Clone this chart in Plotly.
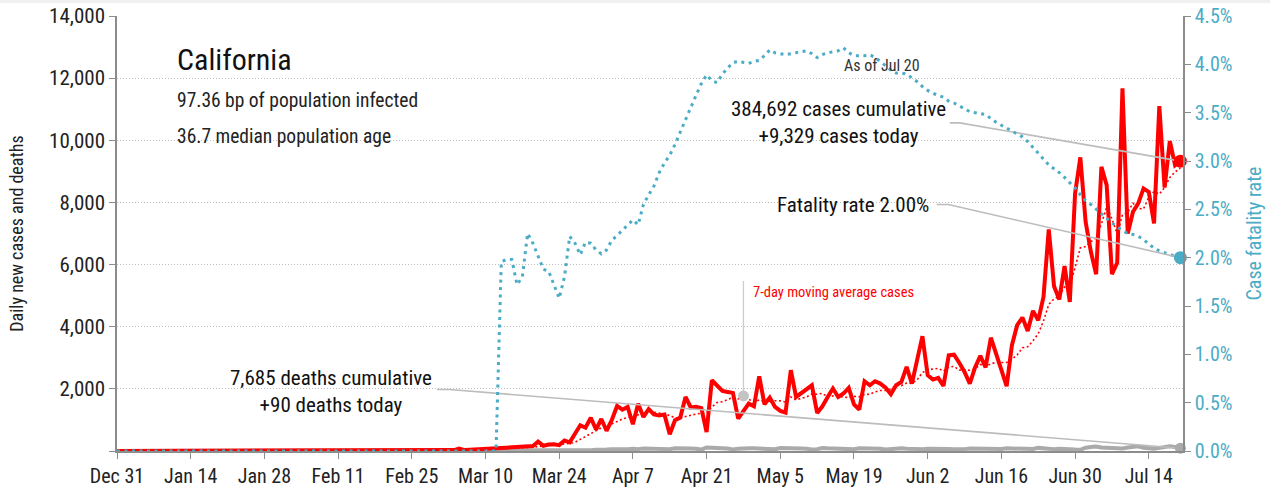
import pandas as pd
import plotly.graph_objects as go

# ---------------- data ----------------
start_date = "2019-12-31"
end_date = "2020-07-20"

# daily new cases, Dec 31 .. Jul 20
daily_cases = [
    0, 0, 0, 0, 0, 0, 0, 0, 0, 0,
    0, 0, 0, 0, 0, 0, 0, 0, 0, 0,
    0, 0, 0, 0, 0, 0, 0, 0, 0, 0,
    0, 0, 0, 0, 0, 0, 0, 0, 0, 0,
    0, 0, 0, 0, 0, 0, 0, 0, 0, 0,
    0, 0, 0, 0, 0, 0, 0, 0, 0, 0,
    0,
    10, 5, 20, 30, 80, 30, 40, 50, 60, 60,
    80, 90, 80, 90, 120, 110, 140, 150, 160, 300,
    170, 210, 220, 190, 340, 280, 560, 830, 750, 1070,
    690, 1030, 650, 1000, 1450, 1330, 1420, 860, 1520, 1095,
    1350, 1180, 1140, 1170, 540, 990, 1075, 1740, 1400, 1420,
    1380, 612, 2277, 2084, 1932, 1900, 1870, 1045, 1310, 1525,
    1440, 2405, 1500, 1720, 1420, 1290, 1235, 2600, 1740, 1870,
    2010, 2115, 1225, 1440, 1740, 2010, 1740, 1850, 2030, 1500,
    1335, 2245, 2115, 2245, 2170, 2040, 1825, 2115, 2220, 2705,
    2170, 2950, 3695, 2440, 2300, 2355, 2095, 3080, 3100, 2840,
    2545, 2170, 2690, 3060, 2690, 3645, 3150, 2620, 2085, 3405,
    4050, 4295, 3865, 4510, 4210, 4960, 7130, 5305, 4875, 5950,
    4800, 8290, 9450, 7375, 6410, 5690, 9145, 8555, 5690, 6055,
    11670, 7000, 7700, 7970, 8450, 8340, 7325, 11100, 8480, 9975, 9200, 9329,
]

# daily new deaths, Dec 31 .. Jul 20
daily_deaths = [
    0, 0, 0, 0, 0, 0, 0, 0, 0, 0,
    0, 0, 0, 0, 0, 0, 0, 0, 0, 0,
    0, 0, 0, 0, 0, 0, 0, 0, 0, 0,
    0, 0, 0, 0, 0, 0, 0, 0, 0, 0,
    0, 0, 0, 0, 0, 0, 0, 0, 0, 0,
    0, 0, 0, 0, 0, 0, 0, 0, 0, 0,
    0,
    0, 0, 0, 1, 0, 0, 1, 1, 1, 1,
    1, 2, 1, 2, 3, 2, 5, 4, 6, 4,
    6, 12, 9, 13, 16, 18, 25, 22, 32, 28,
    40, 35, 49, 58, 52, 63, 55, 71, 60, 82,
    78, 95, 72, 56, 60, 88, 95, 85, 81, 70,
    45, 114, 95, 90, 86, 80, 50, 76, 95, 90,
    88, 82, 78, 60, 55, 95, 98, 85, 82, 78,
    70, 48, 60, 95, 85, 80, 72, 65, 45, 55,
    90, 88, 82, 75, 70, 45, 60, 85, 88, 75,
    68, 50, 60, 75, 78, 82, 70, 62, 55, 45,
    60, 80, 75, 72, 65, 50, 45, 68, 85, 78,
    70, 55, 40, 65, 100, 80, 72, 60, 75, 58,
    55, 45, 40, 105, 130, 145, 110, 95, 90, 75,
    80, 110, 140, 150, 105, 95, 70, 100, 120, 155, 130, 90,
]

# case fatality rate (%), Dec 31 .. Jul 20
fatality_rate = [
    0, 0, 0, 0, 0, 0, 0, 0, 0, 0,
    0, 0, 0, 0, 0, 0, 0, 0, 0, 0,
    0, 0, 0, 0, 0, 0, 0, 0, 0, 0,
    0, 0, 0, 0, 0, 0, 0, 0, 0, 0,
    0, 0, 0, 0, 0, 0, 0, 0, 0, 0,
    0, 0, 0, 0, 0, 0, 0, 0, 0, 0,
    0, 0, 0, 0, 0, 0, 0, 0, 0, 0,
    0, 0, 0,
    1.96, 1.98, 1.98, 1.72, 1.80, 2.25, 2.15, 2.01,
    1.88, 1.86, 1.72, 1.58, 1.80, 2.22, 2.15, 2.03, 2.16, 2.15,
    2.08, 2.04, 2.08, 2.18, 2.23, 2.28, 2.34, 2.39, 2.34, 2.55,
    2.65, 2.74, 2.88, 2.98, 3.06, 3.17, 3.30, 3.43, 3.55, 3.68,
    3.80, 3.89, 3.83, 3.81, 3.90, 3.96, 4.02, 4.03, 4.02, 4.01,
    4.03, 4.04, 4.09, 4.15, 4.12, 4.11, 4.10, 4.11, 4.12, 4.13,
    4.14, 4.11, 4.07, 4.10, 4.12, 4.13, 4.14, 4.17, 4.12, 4.09,
    4.09, 4.09, 4.10, 4.07, 4.03, 3.98, 3.94, 3.91, 3.91, 3.90,
    3.86, 3.82, 3.77, 3.73, 3.70, 3.68, 3.66, 3.62, 3.60, 3.57,
    3.54, 3.51, 3.50, 3.49, 3.48, 3.44, 3.40, 3.37, 3.34, 3.31,
    3.28, 3.25, 3.20, 3.14, 3.08, 3.03, 2.96, 2.92, 2.88, 2.83,
    2.78, 2.72, 2.65, 2.59, 2.55, 2.50, 2.45, 2.40, 2.36, 2.32,
    2.28, 2.25, 2.24, 2.22, 2.19, 2.14, 2.10, 2.07, 2.05, 2.03, 2.02, 2.00,
]

left_tickvals = [0, 2000, 4000, 6000, 8000, 10000, 12000, 14000]
left_ticktext = ["", "2,000", "4,000", "6,000", "8,000", "10,000", "12,000", "14,000"]
right_tickvals = [0, 0.5, 1.0, 1.5, 2.0, 2.5, 3.0, 3.5, 4.0, 4.5]
right_ticktext = ["0.0%", "0.5%", "1.0%", "1.5%", "2.0%", "2.5%", "3.0%", "3.5%", "4.0%", "4.5%"]

title_text = "California"
subtitle_lines = ["97.36 bp of population infected", "36.7 median population age"]
cases_note = "384,692 cases cumulative<br>+9,329 cases today"
fatality_note = "Fatality rate 2.00%"
deaths_note = "7,685 deaths cumulative<br>+90 deaths today"
asof_note = "As of Jul 20"
ma_note = "7-day moving average cases"

# ---------------- build ----------------
dates = pd.date_range(start_date, end_date, freq="D")
df = pd.DataFrame({"date": dates, "cases": daily_cases, "deaths": daily_deaths, "cfr": fatality_rate})
df["ma7"] = df["cases"].rolling(7, min_periods=1).mean()

FONT = "Roboto Condensed, Liberation Sans Narrow, DejaVu Sans Condensed, sans-serif"
RED = "#ff0000"
TEAL = "#4bacc6"
GRAY = "#aaaaaa"
CALLOUT = "#bcbcbc"
AXIS = "#8c8c8c"

last = df.iloc[-1]
fig = go.Figure()

# deaths
fig.add_trace(go.Scatter(x=df["date"], y=df["deaths"], mode="lines",
                         line=dict(color=GRAY, width=4), hoverinfo="skip"))
# fatality rate
fig.add_trace(go.Scatter(x=df["date"], y=df["cfr"], mode="lines", yaxis="y2",
                         line=dict(color=TEAL, width=3, dash="3px,4.5px"), hoverinfo="skip"))
# moving average
fig.add_trace(go.Scatter(x=df["date"], y=df["ma7"], mode="lines",
                         line=dict(color=RED, width=1.6, dash="2px,2.5px"), hoverinfo="skip"))
# daily cases
fig.add_trace(go.Scatter(x=df["date"], y=df["cases"], mode="lines",
                         line=dict(color=RED, width=4), hoverinfo="skip"))


def day(s):
    return pd.Timestamp(s)


callouts = [
    # (x_text_start, x_bend, y_text, yref, x_end, y_end)
    (day("2020-06-06 05:00"), day("2020-06-08 02:00"), 10560, "y", last["date"], last["cases"]),
    (day("2020-06-03 17:00"), day("2020-06-05 22:00"), 2.55, "y2", last["date"], last["cfr"]),
    (day("2020-02-29 19:00"), day("2020-03-03 04:00"), 1980, "y", last["date"], last["deaths"]),
]
for x0, xb, y0, yr, x1, y1 in callouts:
    fig.add_trace(go.Scatter(x=[x0, xb, x1], y=[y0, y0, y1], mode="lines",
                             yaxis="y2" if yr == "y2" else "y",
                             line=dict(color=CALLOUT, width=1.6), hoverinfo="skip"))

# 7-day MA pointer
ma_x = day("2020-04-28")
ma_y = float(df.loc[df["date"] == ma_x, "ma7"].iloc[0])
fig.add_trace(go.Scatter(x=[ma_x, ma_x], y=[ma_y, 5470], mode="lines",
                         line=dict(color="#cccccc", width=1.3), hoverinfo="skip"))
fig.add_trace(go.Scatter(x=[ma_x], y=[ma_y], mode="markers",
                         marker=dict(color="#c4c4c4", size=11), hoverinfo="skip"))

# end dots
fig.add_trace(go.Scatter(x=[last["date"]], y=[last["deaths"]], mode="markers",
                         marker=dict(color=GRAY, size=11), cliponaxis=False, hoverinfo="skip"))
fig.add_trace(go.Scatter(x=[last["date"]], y=[last["cfr"]], mode="markers", yaxis="y2",
                         marker=dict(color=TEAL, size=13), cliponaxis=False, hoverinfo="skip"))
fig.add_trace(go.Scatter(x=[last["date"]], y=[last["cases"]], mode="markers",
                         marker=dict(color=RED, size=13), cliponaxis=False, hoverinfo="skip"))

annotations = [
    dict(text=title_text, x=0.0544, y=0.899, size=30, color="#111111", xanchor="left"),
    dict(text=subtitle_lines[0], x=0.0544, y=0.8046, size=19.5, color="#222222", xanchor="left"),
    dict(text=subtitle_lines[1], x=0.0544, y=0.7241, size=19.5, color="#222222", xanchor="left"),
    dict(text=asof_note, x=0.7176, y=0.887, size=16, color="#333333", xanchor="center"),
    dict(text=cases_note, x=0.6764, y=0.7552, size=21, color="#111111", xanchor="center"),
    dict(text=fatality_note, x=0.7636, y=0.5655, size=21, color="#111111", xanchor="right"),
    dict(text=deaths_note, x=0.2008, y=0.1379, size=21, color="#111111", xanchor="center"),
    dict(text=ma_note, x=0.5947, y=0.3655, size=14.5, color=RED, xanchor="left"),
]
fig.update_layout(annotations=[
    dict(text=a["text"], x=a["x"], y=a["y"], xref="paper", yref="paper",
         xanchor=a["xanchor"], yanchor="middle", showarrow=False, align="center",
         font=dict(family=FONT, size=a["size"], color=a["color"]))
    for a in annotations
])

# thin light band along the top edge of the page
fig.add_shape(type="rect", xref="paper", yref="paper",
              x0=-0.12, x1=1.09, y0=1.0299, y1=1.04,
              fillcolor="#f0f0f0", line=dict(width=0), layer="below")

fig.update_layout(
    width=1270, height=491,
    margin=dict(l=117, r=87, t=16, b=40),
    paper_bgcolor="white", plot_bgcolor="white",
    showlegend=False,
    font=dict(family=FONT, size=20, color="#222222"),
    xaxis=dict(
        type="date", automargin=False,
        range=[day("2019-12-31"), day("2020-07-20 12:00")],
        tick0="2019-12-31", dtick=14 * 86400000, tickformat="%b %-d",
        showgrid=False, zeroline=False,
        showline=True, linecolor=AXIS, linewidth=1.5,
        ticks="outside", ticklen=6, tickcolor=AXIS, tickwidth=1.2,
        tickfont=dict(family=FONT, size=20, color="#222222"),
    ),
    yaxis=dict(
        automargin=False, ticklabeloverflow="allow",
        range=[0, 14000], tickvals=left_tickvals, ticktext=left_ticktext,
        showgrid=True, gridcolor="#bdbdbd", griddash="1px,2px", gridwidth=1.2,
        zeroline=False, showline=True, linecolor=AXIS, linewidth=1.5,
        ticks="outside", ticklen=6, tickcolor=AXIS, tickwidth=1.2,
        tickfont=dict(family=FONT, size=21, color="#222222"),
        title=dict(text="Daily new cases and deaths", standoff=21,
                   font=dict(family=FONT, size=18, color="#222222")),
    ),
    yaxis2=dict(
        automargin=False, ticklabeloverflow="allow",
        overlaying="y", side="right", range=[0, 4.5],
        tickvals=right_tickvals, ticktext=right_ticktext,
        showgrid=False, zeroline=False,
        showline=True, linecolor=AXIS, linewidth=1.5,
        ticks="outside", ticklen=6, tickcolor=AXIS, tickwidth=1.2,
        tickfont=dict(family=FONT, size=20, color=TEAL),
        title=dict(text="Case fatality rate", standoff=16,
                   font=dict(family=FONT, size=20, color=TEAL)),
    ),
)

fig.write_html("out.html", config={"displayModeBar": False},
               post_script="document.body.style.margin='0';")
